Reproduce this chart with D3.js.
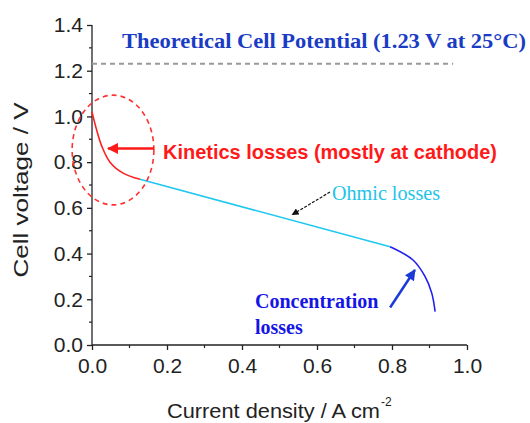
<!DOCTYPE html>
<html>
<head>
<meta charset="utf-8">
<script src="https://cdn.jsdelivr.net/npm/d3@7"></script>
<style>
  html, body { margin: 0; padding: 0; background: #fff; }
  svg { display: block; }
</style>
</head>
<body>
<svg id="chart" width="530" height="423"></svg>
<script>
// Polarization curve of a fuel cell: voltage vs current density
const kineticI = [0.0, 0.0125, 0.026, 0.048, 0.083, 0.128];
const kineticV = [1.02, 0.94, 0.87, 0.80, 0.752, 0.725];
const ohmicI = [0.128, 0.795];
const ohmicV = [0.725, 0.43];
const concI = [0.795, 0.856, 0.888, 0.906, 0.915];
const concV = [0.43, 0.372, 0.30, 0.227, 0.146];
const theoreticalV = 1.23;
const theoreticalEndI = 0.963;
const xTicks = [0.0, 0.2, 0.4, 0.6, 0.8, 1.0];
const yTicks = [0.0, 0.2, 0.4, 0.6, 0.8, 1.0, 1.2, 1.4];

const svg = d3.select("#chart");
const x = d3.scaleLinear().domain([0, 1.0]).range([92, 467]);
const y = d3.scaleLinear().domain([0, 1.4]).range([345, 25]);

const axisFont = "'Liberation Sans', Arial, sans-serif";
const serif = "'Liberation Serif', 'Times New Roman', serif";

// arrow markers
const defs = svg.append("defs");
function marker(id, color, w, h) {
  defs.append("marker").attr("id", id)
    .attr("viewBox", "0 0 10 10").attr("refX", 9).attr("refY", 5)
    .attr("markerUnits", "userSpaceOnUse")
    .attr("markerWidth", w).attr("markerHeight", h).attr("orient", "auto")
    .append("path").attr("d", "M0,0 L10,5 L0,10 Z").attr("fill", color);
}
marker("arrRed", "#ff1a1a", 12, 11);
marker("arrBlue", "#1a3ad8", 12, 11);
marker("arrBlack", "#111", 9, 7);

// axes
const xAxis = d3.axisBottom(x).tickValues(xTicks).tickFormat(d3.format(".1f")).tickSize(5).tickPadding(8);
const yAxis = d3.axisLeft(y).tickValues(yTicks).tickFormat(d3.format(".1f")).tickSize(5).tickPadding(4);

const gx = svg.append("g").attr("transform", "translate(0,345)").call(xAxis);
const gy = svg.append("g").attr("transform", "translate(92,0)").call(yAxis);
[gx, gy].forEach(g => {
  g.select(".domain").attr("stroke", "#222").attr("stroke-width", 1.3);
  g.selectAll(".tick line").attr("stroke", "#222").attr("stroke-width", 1.3);
  g.selectAll(".tick text").attr("font-family", axisFont).attr("font-size", 21).attr("fill", "#222");
});
gx.select(".domain").attr("d", "M92,0H467");
gy.select(".domain").attr("d", "M0,345V25");

// minor ticks
const minorX = d3.range(0.1, 1.0, 0.2);
const minorY = d3.range(0.1, 1.4, 0.2);
svg.append("g").selectAll("line").data(minorX).join("line")
  .attr("x1", d => x(d)).attr("x2", d => x(d)).attr("y1", 345).attr("y2", 348)
  .attr("stroke", "#222").attr("stroke-width", 1.2);
svg.append("g").selectAll("line").data(minorY).join("line")
  .attr("x1", 89).attr("x2", 92).attr("y1", d => y(d)).attr("y2", d => y(d))
  .attr("stroke", "#222").attr("stroke-width", 1.2);

// axis titles
svg.append("text").attr("x", 167).attr("y", 418)
  .attr("font-family", axisFont).attr("font-size", 21).attr("fill", "#222")
  .attr("textLength", 213).attr("lengthAdjust", "spacingAndGlyphs")
  .text("Current density / A cm");
svg.append("text").attr("x", 381).attr("y", 406)
  .attr("font-family", axisFont).attr("font-size", 12).attr("fill", "#222")
  .text("-2");
svg.append("text").attr("transform", "translate(28,190) rotate(-90)")
  .attr("text-anchor", "middle")
  .attr("font-family", axisFont).attr("font-size", 21).attr("fill", "#222")
  .attr("textLength", 175).attr("lengthAdjust", "spacingAndGlyphs")
  .text("Cell voltage / V");

// theoretical potential
svg.append("line")
  .attr("x1", x(0)).attr("x2", x(theoreticalEndI))
  .attr("y1", y(theoreticalV)).attr("y2", y(theoreticalV))
  .attr("stroke", "#999").attr("stroke-width", 2).attr("stroke-dasharray", "5,4");
svg.append("text").attr("x", 122).attr("y", 48)
  .attr("font-family", serif).attr("font-weight", "bold").attr("font-size", 22)
  .attr("fill", "#1a3cc4")
  .attr("textLength", 404).attr("lengthAdjust", "spacingAndGlyphs")
  .text("Theoretical Cell Potential (1.23 V at 25°C)");

// curve segments
const line = d3.line().x(d => x(d[0])).y(d => y(d[1])).curve(d3.curveCatmullRom);
const seg = (I, V) => I.map((d, i) => [d, V[i]]);

svg.append("path").datum(seg(ohmicI, ohmicV)).attr("d", line)
  .attr("fill", "none").attr("stroke", "#1ec8f0").attr("stroke-width", 1.6);
svg.append("path").datum(seg(kineticI, kineticV)).attr("d", line)
  .attr("fill", "none").attr("stroke", "#ff2020").attr("stroke-width", 1.6);
svg.append("path").datum(seg(concI, concV)).attr("d", line)
  .attr("fill", "none").attr("stroke", "#2020ee").attr("stroke-width", 1.6);

// kinetics region marker
svg.append("ellipse")
  .attr("cx", x(0.056)).attr("cy", y(0.853))
  .attr("rx", x(0.109) - x(0)).attr("ry", y(0) - y(0.24))
  .attr("fill", "none").attr("stroke", "#ff3030").attr("stroke-width", 1.6)
  .attr("stroke-dasharray", "5,4");
svg.append("line")
  .attr("x1", x(0.165)).attr("x2", x(0.043))
  .attr("y1", y(0.86)).attr("y2", y(0.86))
  .attr("stroke", "#ff1a1a").attr("stroke-width", 2.5).attr("marker-end", "url(#arrRed)");
svg.append("text").attr("x", 163).attr("y", 159)
  .attr("font-family", axisFont).attr("font-weight", "bold").attr("font-size", 20)
  .attr("fill", "#ff1a1a")
  .attr("textLength", 334).attr("lengthAdjust", "spacingAndGlyphs")
  .text("Kinetics losses (mostly at cathode)");

// ohmic label
svg.append("line")
  .attr("x1", 330).attr("y1", 192).attr("x2", x(0.534)).attr("y2", y(0.57))
  .attr("stroke", "#111").attr("stroke-width", 1.2).attr("stroke-dasharray", "3,1.5")
  .attr("marker-end", "url(#arrBlack)");
svg.append("text").attr("x", 332).attr("y", 200)
  .attr("font-family", serif).attr("font-size", 20).attr("fill", "#22c4e8")
  .attr("textLength", 108).attr("lengthAdjust", "spacingAndGlyphs")
  .text("Ohmic losses");

// concentration label
svg.append("line")
  .attr("x1", x(0.795)).attr("y1", y(0.164)).attr("x2", x(0.861)).attr("y2", y(0.328))
  .attr("stroke", "#1a3ad8").attr("stroke-width", 2.5).attr("marker-end", "url(#arrBlue)");
const conc = svg.append("text")
  .attr("font-family", serif).attr("font-weight", "bold").attr("font-size", 20)
  .attr("fill", "#1515e6");
conc.append("tspan").attr("x", 255).attr("y", 308).text("Concentration");
conc.append("tspan").attr("x", 255).attr("y", 334).text("losses");
</script>
</body>
</html>
